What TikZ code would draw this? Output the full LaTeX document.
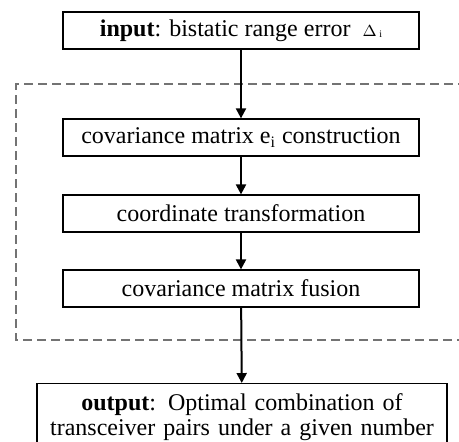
\documentclass[tikz,border=0pt]{standalone}
\usepackage{fontspec}
\setmainfont{Liberation Serif}
\usetikzlibrary{arrows.meta}

\begin{document}
\begin{tikzpicture}[
  font=\fontsize{12}{12.5}\selectfont,
  stage/.style={draw,line width=0.6pt,minimum width=178pt,minimum height=18.5pt,inner sep=2pt},
  flow/.style={-{Triangle[length=5pt,width=5pt]},line width=1pt},
  group/.style={draw=black!55,line width=0.6pt,dash pattern=on 4.5pt off 2.5pt}
]
  \useasboundingbox (0,0) rectangle (8.066,-7.75);

  \node[stage] (in) at (4.235,-0.536)
    {\textbf{input}: bistatic range error\ \ {\footnotesize$\Delta$\,\raisebox{-0.6pt}{\tiny i}}};
  \node[stage] (cov)   at (4.235,-2.416) {covariance matrix e\textsubscript{i} construction};
  \node[stage] (coord) at (4.235,-3.752) {coordinate transformation};
  \node[stage] (fus)   at (4.235,-5.070) {covariance matrix fusion};
  \node[stage,anchor=north,minimum width=0pt,text width=201pt,align=center,inner ysep=5pt] (out) at (4.253,-6.731)
    {\textbf{output}: Optimal combination of\\transceiver pairs under a given number};

  % frame round the three middle stages, open on the right
  \draw[group] (8.2,-1.476) -| (0.281,-5.975) -- (8.2,-5.975);

  \draw[flow] (in) -- (cov);
  \draw[flow] (cov) -- (coord);
  \draw[flow] (coord) -- (fus);
  \draw[flow] (fus) -- (out);
\end{tikzpicture}
\end{document}
